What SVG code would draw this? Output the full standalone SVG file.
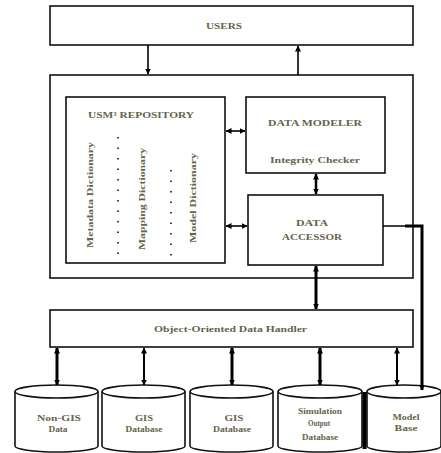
<svg xmlns="http://www.w3.org/2000/svg" width="441" height="453" viewBox="0 0 441 453">
<style>
.box{fill:#fff;stroke:#111;stroke-width:1.6}
.t{font-family:"Liberation Serif",serif;font-size:8.5px;fill:#64644a;text-anchor:middle;font-weight:bold}
.c{stroke:#000;fill:none}
.cyl{fill:#fff;stroke:#111;stroke-width:1.6}
.dot{stroke:#111;stroke-width:1.6;stroke-dasharray:1.5 9}
</style>
<defs>
<marker id="ah" viewBox="0 0 6 6" refX="5.5" refY="3" markerWidth="6" markerHeight="6" markerUnits="userSpaceOnUse" orient="auto-start-reverse">
<path d="M0,0 L6,3 L0,6 z" fill="#000"/>
</marker>
</defs>
<rect width="441" height="453" fill="#fff"/>
<g id="users"><rect class="box" x="50" y="6" width="363" height="39"/><text class="t" x="224" y="29" textLength="36" lengthAdjust="spacingAndGlyphs">USERS</text></g>
<g id="container"><rect class="box" x="50" y="75" width="363" height="203"/></g>
<g id="repository">
<rect class="box" x="66" y="97" width="159" height="166"/>
<text class="t" x="141" y="118" textLength="106" lengthAdjust="spacingAndGlyphs">USM³ REPOSITORY</text>
<text class="t" transform="translate(93,195) rotate(-90)" textLength="106" lengthAdjust="spacingAndGlyphs">Metadata Dictionary</text>
<line class="dot" x1="118" y1="137" x2="118" y2="255"/>
<text class="t" transform="translate(145,199) rotate(-90)" textLength="102" lengthAdjust="spacingAndGlyphs">Mapping Dictionary</text>
<line class="dot" x1="171" y1="170" x2="171" y2="260"/>
<text class="t" transform="translate(196,198) rotate(-90)" textLength="90" lengthAdjust="spacingAndGlyphs">Model Dictionary</text>
</g>
<g id="modeler"><rect class="box" x="246" y="97" width="139" height="76"/><text class="t" x="315" y="126" textLength="94" lengthAdjust="spacingAndGlyphs">DATA MODELER</text><text class="t" x="315" y="163" textLength="90" lengthAdjust="spacingAndGlyphs">Integrity Checker</text></g>
<g id="accessor"><rect class="box" x="248" y="195" width="135" height="70"/><text class="t" x="312" y="226" textLength="32" lengthAdjust="spacingAndGlyphs">DATA</text><text class="t" x="312" y="240" textLength="60" lengthAdjust="spacingAndGlyphs">ACCESSOR</text></g>
<g id="handler"><rect class="box" x="50" y="310" width="363" height="37"/><text class="t" x="230.5" y="332" textLength="153" lengthAdjust="spacingAndGlyphs">Object-Oriented Data Handler</text></g>
<g id="cyl1"><path class="cyl" d="M15,391.5 L15,446 A41.5,6 0 0 0 98,446 L98,391.5"/><ellipse class="cyl" cx="56.5" cy="391.5" rx="41.5" ry="6.5"/><text class="t" x="59" y="421" textLength="44" lengthAdjust="spacingAndGlyphs">Non-GIS</text><text class="t" x="58" y="432" textLength="19" lengthAdjust="spacingAndGlyphs">Data</text></g>
<g id="cyl2"><path class="cyl" d="M102,391.5 L102,446 A41.5,6 0 0 0 185,446 L185,391.5"/><ellipse class="cyl" cx="143.5" cy="391.5" rx="41.5" ry="6.5"/><text class="t" x="144" y="421" textLength="18" lengthAdjust="spacingAndGlyphs">GIS</text><text class="t" x="144" y="432" textLength="37" lengthAdjust="spacingAndGlyphs">Database</text></g>
<g id="cyl3"><path class="cyl" d="M190,391.5 L190,446 A41.5,6 0 0 0 273,446 L273,391.5"/><ellipse class="cyl" cx="231.5" cy="391.5" rx="41.5" ry="6.5"/><text class="t" x="234" y="421" textLength="19" lengthAdjust="spacingAndGlyphs">GIS</text><text class="t" x="232" y="432" textLength="38" lengthAdjust="spacingAndGlyphs">Database</text></g>
<g id="cyl4"><path class="cyl" d="M278,391.5 L278,446 A42,6 0 0 0 362,446 L362,391.5"/><ellipse class="cyl" cx="320" cy="391.5" rx="42" ry="6.5"/><text class="t" x="320" y="414" textLength="44" lengthAdjust="spacingAndGlyphs">Simulation</text><text class="t" x="319" y="426" textLength="22" lengthAdjust="spacingAndGlyphs">Output</text><text class="t" x="320" y="440" textLength="36" lengthAdjust="spacingAndGlyphs">Database</text></g>
<g id="cyl5"><path class="cyl" d="M367,391.5 L367,446 A37,6 0 0 0 441,446 L441,391.5"/><ellipse class="cyl" cx="404" cy="391.5" rx="37" ry="6.5"/><text class="t" x="406" y="420" textLength="27" lengthAdjust="spacingAndGlyphs">Model</text><text class="t" x="406" y="431" textLength="23" lengthAdjust="spacingAndGlyphs">Base</text></g>
<g id="connectors" class="c">
<line x1="364.5" y1="392" x2="364.5" y2="449" stroke-width="4"/>
<line x1="148" y1="45" x2="148" y2="74" stroke-width="1.6" marker-end="url(#ah)"/>
<line x1="298" y1="75" x2="298" y2="46" stroke-width="1.6" marker-end="url(#ah)"/>
<line x1="226" y1="131" x2="245" y2="131" stroke-width="1.6" marker-start="url(#ah)" marker-end="url(#ah)"/>
<line x1="226" y1="226" x2="247" y2="226" stroke-width="1.6" marker-start="url(#ah)" marker-end="url(#ah)"/>
<line x1="316" y1="174" x2="316" y2="194" stroke-width="2.5" marker-start="url(#ah)" marker-end="url(#ah)"/>
<line x1="316" y1="266" x2="316" y2="309" stroke-width="3" marker-start="url(#ah)" marker-end="url(#ah)"/>
<polyline points="383,226 422,226 422,390" stroke-width="1.6"/>
<polyline points="405,226 422,226 422,390" stroke-width="3" marker-end="url(#ah)"/>
<line x1="57" y1="348" x2="57" y2="385" stroke-width="3" marker-start="url(#ah)" marker-end="url(#ah)"/>
<line x1="144" y1="348" x2="144" y2="385" stroke-width="2" marker-start="url(#ah)" marker-end="url(#ah)"/>
<line x1="232" y1="348" x2="232" y2="385" stroke-width="3" marker-start="url(#ah)" marker-end="url(#ah)"/>
<line x1="320" y1="348" x2="320" y2="385" stroke-width="3" marker-start="url(#ah)" marker-end="url(#ah)"/>
<line x1="397" y1="348" x2="397" y2="385" stroke-width="2" marker-start="url(#ah)" marker-end="url(#ah)"/>
</g>
</svg>
